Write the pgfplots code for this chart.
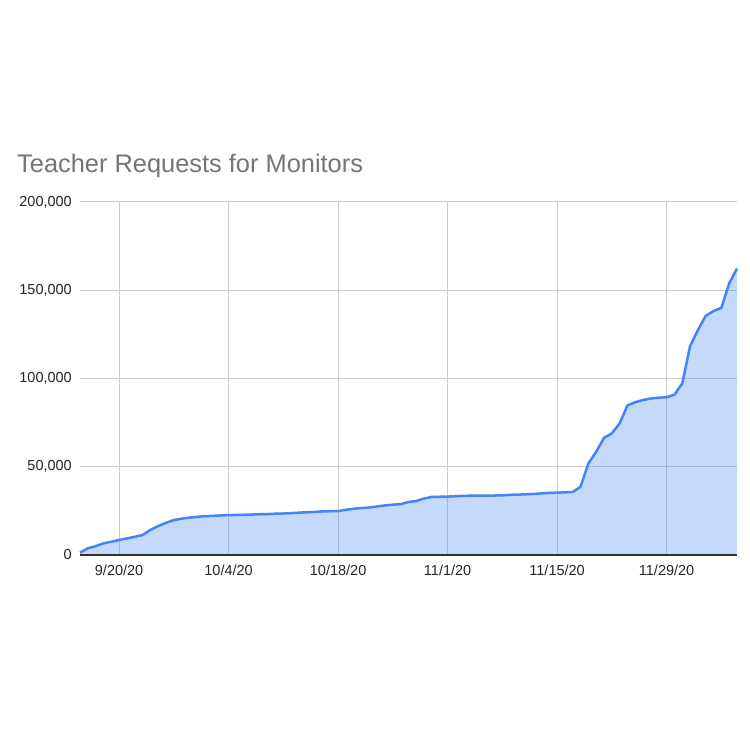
\documentclass[border=0pt]{standalone}
\usepackage{pgfplots}
\usepackage{pgfplotstable}
\pgfplotsset{compat=1.18}
\usepackage{fontspec}
\setmainfont{Liberation Sans}
\definecolor{gblue}{HTML}{4285F4}
\definecolor{ggrid}{HTML}{CCCCCC}
\definecolor{gtitle}{HTML}{757575}
\definecolor{gaxis}{HTML}{333333}
\pgfplotstableread{
d v
0 1300
1 3800
2 5000
3 6600
4 7500
5 8500
6 9400
7 10300
8 11300
9 14200
10 16400
11 18200
12 19800
13 20600
14 21200
15 21600
16 22000
17 22200
18 22400
19 22600
20 22700
21 22800
22 22900
23 23100
24 23200
25 23400
26 23500
27 23700
28 24000
29 24200
30 24400
31 24700
32 24800
33 24900
34 25600
35 26200
36 26600
37 26900
38 27500
39 28100
40 28500
41 28800
42 30000
43 30600
44 32000
45 32900
46 33000
47 33100
48 33300
49 33500
50 33600
51 33700
52 33700
53 33700
54 33800
55 34100
56 34200
57 34400
58 34600
59 34900
60 35200
61 35300
62 35500
63 35700
64 38700
65 51900
66 58500
67 66400
68 68900
69 74600
70 84800
71 86600
72 87800
73 88700
74 89100
75 89400
76 90800
77 97200
78 118300
79 127400
80 135500
81 138200
82 140000
83 153900
84 162300
}\reqdata
\begin{document}
\begin{tikzpicture}[x=1bp,y=1bp]
\useasboundingbox[fill=white] (0,0) rectangle (750,750);
\node[anchor=base west, inner sep=0pt, text=gtitle, font=\fontsize{25.4bp}{30bp}\selectfont] at (17,577.3) {Teacher Requests for Monitors};
\begin{axis}[
  at={(80bp,195bp)}, anchor=south west,
  scale only axis, width=657bp, height=353bp,
  xmin=0, xmax=84, ymin=0, ymax=200000,
  axis x line=bottom, axis y line=left,
  x axis line style={draw=none},
  y axis line style={draw=none},
  major tick length=0pt,
  xtick={5,19,33,47,61,75},
  xticklabels={9/20/20,10/4/20,10/18/20,11/1/20,11/15/20,11/29/20},
  ytick={0,50000,100000,150000,200000},
  yticklabels={0,{50,000},{100,000},{150,000},{200,000}},
  scaled y ticks=false,
  grid=major,
  major grid style={draw=ggrid, line width=1bp},
  ticklabel style={font=\fontsize{14.5bp}{17bp}\selectfont, text=black!85},
  yticklabel style={inner sep=0pt, xshift=-8bp},
  xticklabel style={inner sep=0pt, yshift=-10bp},
  clip=false,
]
\addplot[draw=none, fill=gblue, fill opacity=0.3] table[x=d, y=v] {\reqdata} \closedcycle;
\addplot[gblue, line width=2.5bp, line join=round] table[x=d, y=v] {\reqdata};
\draw[gaxis, line width=1.2bp] (axis cs:0,0) -- (axis cs:84,0);
\end{axis}
\end{tikzpicture}
\end{document}
